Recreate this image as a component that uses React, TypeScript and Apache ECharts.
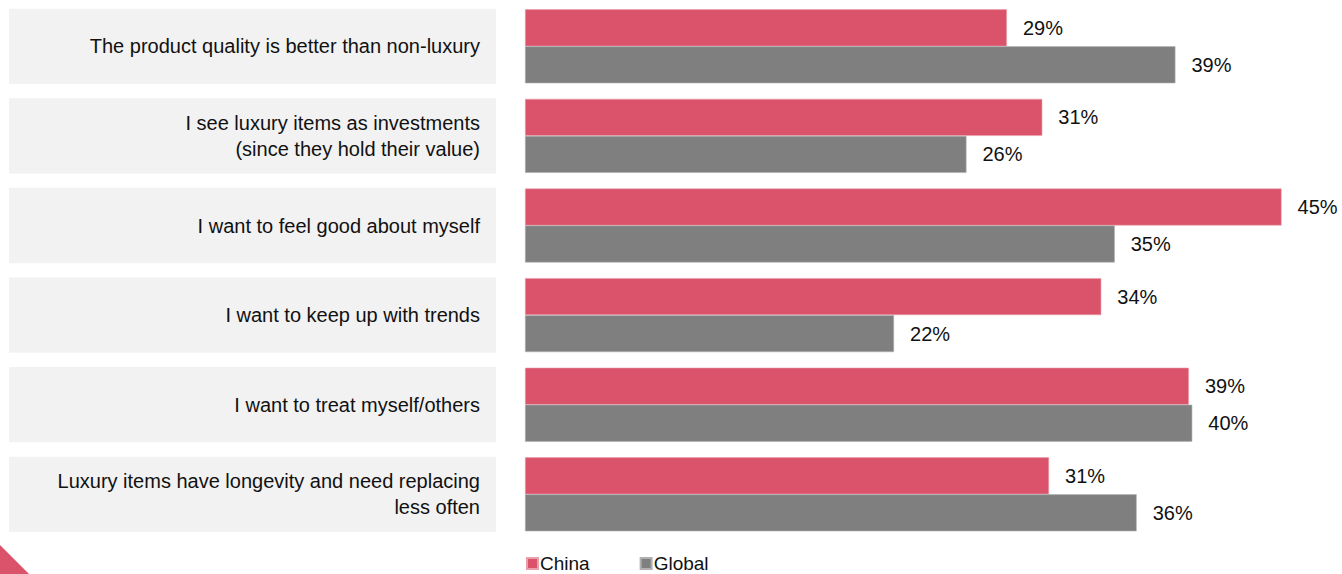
import React, { useEffect, useRef } from "react";
import * as echarts from "echarts";

const categories = [
  "The product quality is better than non-luxury",
  "I see luxury items as investments\n(since they hold their value)",
  "I want to feel good about myself",
  "I want to keep up with trends",
  "I want to treat myself/others",
  "Luxury items have longevity and need replacing\nless often",
];
const chinaValues = [28.6, 30.7, 44.9, 34.2, 39.4, 31.1];
const globalValues = [38.6, 26.2, 35.0, 21.9, 39.6, 36.3];
const seriesNames = ["China", "Global"];
const backgroundValues = categories.map(() => 1);

const FONT = "'Liberation Sans', Arial, sans-serif";

export default function App() {
  const ref = useRef<HTMLDivElement>(null);
  useEffect(() => {
    if (!ref.current) return;
    const chart = echarts.init(ref.current, undefined, { renderer: "svg" });
    const valueLabel = {
      show: true,
      position: "right",
      distance: 16,
      fontSize: 20,
      fontFamily: FONT,
      color: "#111",
      formatter: (p: any) => `${Math.round(p.value)}%`,
    };
    chart.setOption({
      animation: false,
      backgroundColor: "#ffffff",
      textStyle: { fontFamily: FONT },
      grid: [
        { left: 525, right: 8.2, top: 1.5, height: 537.6 },
        { left: 9, width: 487, top: 1.5, height: 537.6 },
      ],
      xAxis: [
        { type: "value", min: 0, max: 48, gridIndex: 0, show: false },
        { type: "value", min: 0, max: 1, gridIndex: 1, show: false },
      ],
      yAxis: [
        {
          type: "category",
          data: categories,
          inverse: true,
          gridIndex: 0,
          z: 10,
          axisLine: { show: false },
          axisTick: { show: false },
          splitLine: { show: false },
          axisLabel: {
            margin: 45,
            fontSize: 20,
            lineHeight: 26,
            color: "#111",
            fontFamily: FONT,
            align: "right",
            padding: [0, 0, 6, 0],
          },
        },
        {
          type: "category",
          data: categories,
          inverse: true,
          gridIndex: 1,
          show: false,
        },
      ],
      legend: {
        left: 526,
        top: 554,
        icon: "rect",
        itemWidth: 11,
        itemHeight: 11,
        itemGap: 50,
        padding: 0,
        textStyle: { fontSize: 19, color: "#111", fontFamily: FONT, padding: [0, 0, 0, -3] },
        data: seriesNames,
      },
      series: [
        {
          name: "bg",
          type: "bar",
          xAxisIndex: 1,
          yAxisIndex: 1,
          data: backgroundValues,
          barWidth: 75.3,
          silent: true,
          z: 0,
          itemStyle: { color: "#F2F2F2" },
        },
        {
          name: seriesNames[0],
          type: "bar",
          data: chinaValues,
          barWidth: 37,
          barGap: "0%",
          itemStyle: { color: "#DB536A", borderColor: "#E8A0AB", borderWidth: 0.6 },
          label: valueLabel,
        },
        {
          name: seriesNames[1],
          type: "bar",
          data: globalValues,
          barWidth: 37,
          barGap: "0%",
          itemStyle: { color: "#7F7F7F", borderColor: "#B0B0B0", borderWidth: 0.6 },
          label: valueLabel,
        },
      ],
      graphic: [
        {
          type: "polygon",
          shape: { points: [[0, 545], [0, 574], [29, 574]] },
          style: { fill: "#DB536A" },
          silent: true,
        },
      ],
    });
    return () => chart.dispose();
  }, []);
  return (
    <div
      ref={ref}
      style={{ position: "absolute", left: 0, top: 0, width: 1342, height: 574 }}
    />
  );
}
